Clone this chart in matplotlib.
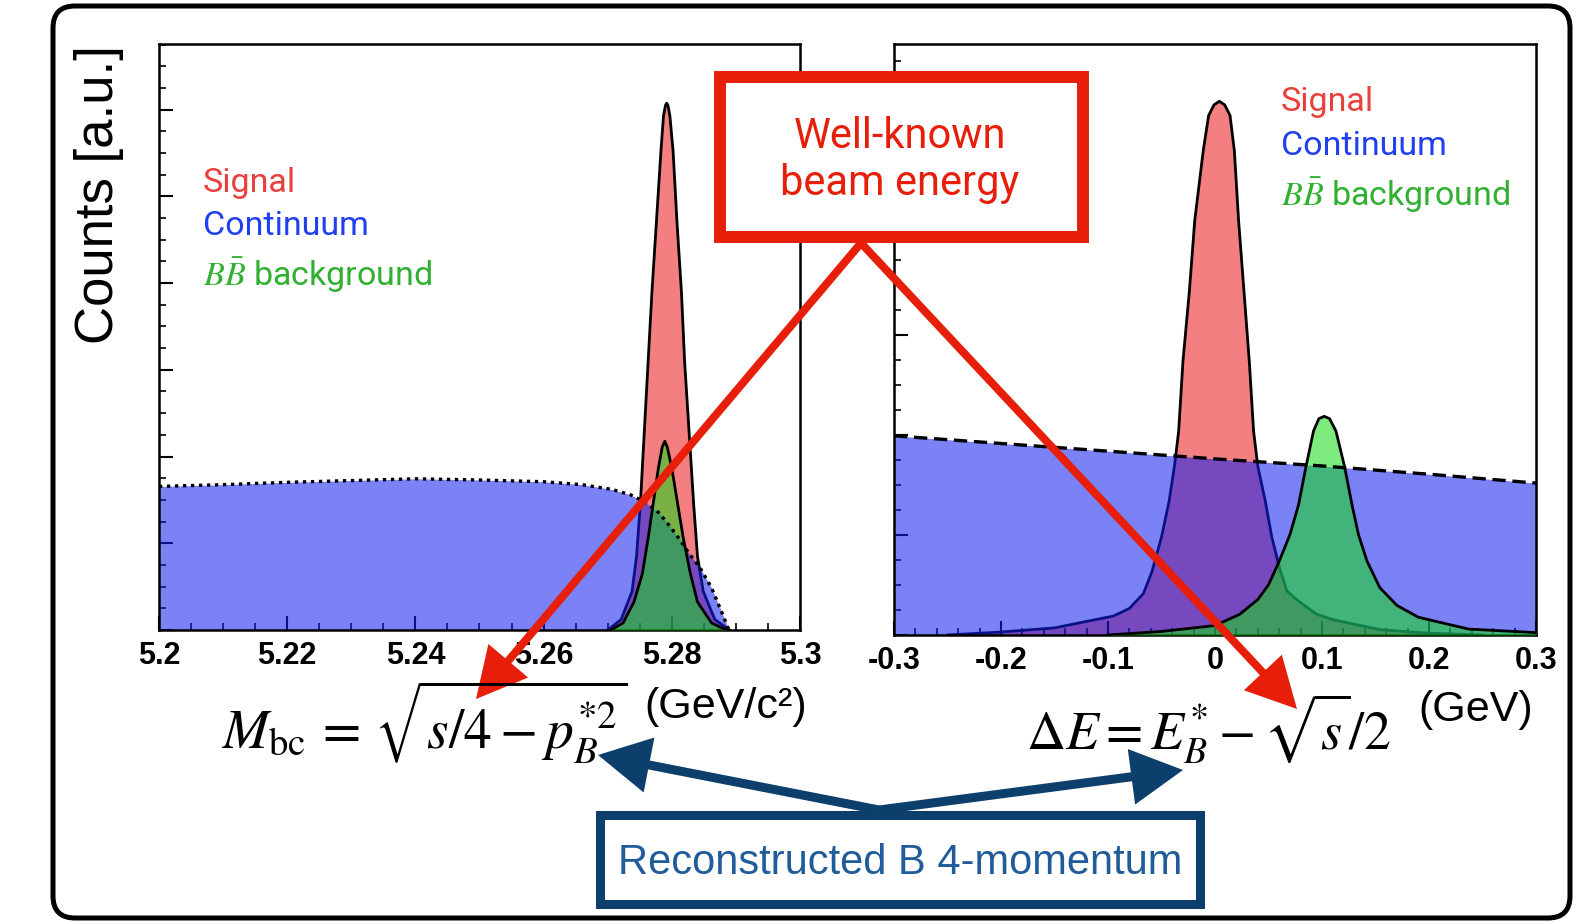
import matplotlib
matplotlib.use("Agg")
import matplotlib.pyplot as plt
from matplotlib.patches import Rectangle, FancyArrow, FancyBboxPatch
from matplotlib.ticker import MultipleLocator, AutoMinorLocator, FuncFormatter

plt.rcParams['mathtext.fontset'] = 'stix'
plt.rcParams['axes.unicode_minus'] = False
plt.rcParams['font.family'] = ['Liberation Sans', 'DejaVu Sans']

# --- Mbc panel (arbitrary units, axis top = 100) ---
mbc_sig_x = [5.2700, 5.2721, 5.2738, 5.2745, 5.2751, 5.2757, 5.2763, 5.2769, 5.2776, 5.2783,
             5.2787, 5.2790, 5.2792, 5.2794, 5.2797, 5.2802, 5.2808, 5.2815, 5.2820, 5.2827,
             5.2834, 5.2840, 5.2849, 5.2867, 5.2890]
mbc_sig_y = [0, 1.8, 6.6, 12.6, 21.6, 33.7, 45.7, 57.7, 69.7, 81.7,
             87.7, 89.5, 89.9, 89.5, 87.7, 81.7, 69.7, 57.7, 45.7, 33.7,
             21.6, 12.6, 6.6, 1.8, 0]

mbc_cont_x = [5.200, 5.210, 5.220, 5.230, 5.240, 5.250, 5.260, 5.266, 5.2706, 5.2735,
              5.2757, 5.2780, 5.2797, 5.2812, 5.2826, 5.2844, 5.2862, 5.2878, 5.2888, 5.2892]
mbc_cont_y = [24.5, 24.8, 25.2, 25.5, 25.8, 25.6, 25.3, 24.8, 24.0, 23.1,
              21.9, 20.0, 17.7, 15.5, 13.2, 10.6, 7.2, 3.0, 0.3, 0]

mbc_bb_x = [5.2705, 5.2724, 5.2741, 5.2754, 5.2763, 5.2771, 5.2779, 5.2785, 5.2789, 5.2793,
            5.2800, 5.2809, 5.2818, 5.2829, 5.2840, 5.2862, 5.2885]
mbc_bb_y = [0, 1.2, 4.8, 9.6, 15.6, 21.6, 27.6, 31.2, 32.2, 31.2,
            27.6, 21.6, 15.6, 9.6, 4.8, 1.2, 0]

# --- Delta E panel ---
de_sig_x = [-0.25, -0.20, -0.15, -0.12, -0.095, -0.080, -0.067, -0.059, -0.050, -0.043,
            -0.038, -0.034, -0.030, -0.024, -0.019, -0.011, -0.006, -0.001, 0.004, 0.009,
            0.014, 0.018, 0.022, 0.027, 0.032, 0.036, 0.040, 0.047, 0.053, 0.060,
            0.067, 0.076, 0.095, 0.110, 0.154, 0.20, 0.25]
de_sig_y = [0, 0.5, 1.2, 2.3, 3.2, 4.5, 7.0, 10.7, 16.6, 22.6,
            28.5, 34.5, 46.3, 58.2, 70.1, 82.0, 87.9, 89.7, 90.3, 89.7,
            87.9, 82.0, 70.1, 58.2, 46.3, 34.5, 28.5, 22.6, 16.6, 11.5,
            7.5, 6.0, 3.5, 2.6, 0.9, 0.3, 0]

de_cont_x = [-0.3, -0.2, -0.1, 0.0, 0.1, 0.2, 0.3]
de_cont_y = [33.7, 32.4, 31.1, 29.8, 28.6, 27.2, 25.7]

de_bb_x = [-0.10, -0.05, 0.000, 0.023, 0.040, 0.050, 0.060, 0.070, 0.078, 0.085,
           0.092, 0.097, 0.102, 0.107, 0.113, 0.121, 0.128, 0.134, 0.142, 0.154,
           0.170, 0.190, 0.237, 0.300]
de_bb_y = [0, 0.6, 1.6, 3.5, 6.0, 8.5, 12.5, 17.0, 22.0, 28.5,
           34.5, 36.6, 37.0, 36.6, 34.5, 28.5, 22.0, 17.0, 12.5, 8.0,
           5.0, 3.0, 1.0, 0.4]

legend_labels = ['Signal', 'Continuum', r'$B\bar{B}$ background']
legend_colors = ['#e8403c', '#2040f0', '#30b030']

RED = '#e61e0a'
NAVY = '#0c3f6b'
SIG_COL = '#f47f80'
CONT_COL = (19 / 255, 32 / 255, 240 / 255)
BB_COL = (20 / 255, 220 / 255, 20 / 255)

fig = plt.figure(figsize=(15.88, 9.22), dpi=100)
ax1 = fig.add_axes([0.1001, 0.3167, 0.4037, 0.6356])
ax2 = fig.add_axes([0.5630, 0.3113, 0.4043, 0.6410])


def draw_panel(ax, sx, sy, cx, cy, bx, by, cont_style, xlim, major_x, nminor_x, major_y):
    ax.fill_between(sx, sy, color=SIG_COL, lw=0, zorder=1)
    ax.plot(sx, sy, color='black', lw=2, zorder=1.5)
    ax.fill_between(cx, cy, color=CONT_COL, alpha=0.56, lw=0, zorder=2)
    ax.fill_between(bx, by, color=BB_COL, alpha=0.55, lw=0, zorder=3)
    ax.plot(bx, by, color='black', lw=2, zorder=3.5)
    ax.plot(cx, cy, color='black', lw=2.4, ls=cont_style, zorder=4)
    ax.set_xlim(*xlim)
    ax.set_ylim(0, 100)
    ax.xaxis.set_major_locator(MultipleLocator(major_x))
    ax.xaxis.set_minor_locator(AutoMinorLocator(nminor_x))
    ax.yaxis.set_major_locator(MultipleLocator(major_y))
    ax.yaxis.set_minor_locator(AutoMinorLocator(4))
    ax.xaxis.set_major_formatter(FuncFormatter(lambda v, p: '%g' % round(v, 3)))
    ax.set_yticklabels([])
    ax.tick_params(which='both', direction='in', top=False, right=False)
    ax.tick_params(which='major', length=10, width=1.5)
    ax.tick_params(which='minor', length=5, width=1.2)
    ax.tick_params(axis='x', pad=8, labelsize=22)
    for s in ax.spines.values():
        s.set_linewidth(1.8)


draw_panel(ax1, mbc_sig_x, mbc_sig_y, mbc_cont_x, mbc_cont_y, mbc_bb_x, mbc_bb_y,
           (0, (1, 1.4)), (5.2, 5.3), 0.02, 4, 14.8)
draw_panel(ax2, de_sig_x, de_sig_y, de_cont_x, de_cont_y, de_bb_x, de_bb_y,
           (0, (4, 2)), (-0.3, 0.3), 0.1, 5, 16.9)
for ax in (ax1, ax2):
    for lab in ax.get_xticklabels():
        lab.set_fontweight('bold')

# overlay in pixel coordinates
ov = fig.add_axes([0, 0, 1, 1], zorder=10)
ov.set_xlim(0, 1588)
ov.set_ylim(922, 0)
ov.axis('off')

# outer rounded frame
ov.add_patch(FancyBboxPatch((53, 6), 1517, 912, boxstyle='round,pad=0,rounding_size=22',
                            fc='none', ec='black', lw=3.6))

ov.text(99, 195, 'Counts [a.u.]', rotation=90, ha='center', va='center', fontsize=38)

# legends
for i, (lab, col) in enumerate(zip(legend_labels, legend_colors)):
    ov.text(203, [183, 226, 275][i], lab, color=col, fontsize=24.5, ha='left', va='center',
            family='Roboto')
    ov.text(1281, [102, 146, 195][i], lab, color=col, fontsize=24.5, ha='left', va='center',
            family='Roboto')

# red arrows + box
for tip in [(476, 699), (1297, 709)]:
    ov.add_patch(FancyArrow(861, 243, tip[0] - 861, tip[1] - 243, width=8, head_width=52,
                            head_length=50, length_includes_head=True, color=RED, lw=0))
ov.add_patch(Rectangle((720, 77), 363, 160, fc='white', ec=RED, lw=8.6))
ov.text(900, 136, 'Well-known', color=RED, fontsize=30, ha='center', va='center',
        family='Roboto')
ov.text(900, 183, 'beam energy', color=RED, fontsize=30, ha='center', va='center',
        family='Roboto')

# formulas
ov.text(221, 750, r'$M_{\rm bc}\,=\,\sqrt{s/4 - p_B^{*2}}$', fontsize=40, ha='left',
        va='baseline')
ov.text(644, 707, '(GeV/c²)', fontsize=31, ha='left', va='center')
ov.text(1026, 750, r'$\Delta E = E_B^{*} - \sqrt{s}/2$', fontsize=39, ha='left',
        va='baseline')
ov.text(1418, 710, '(GeV)', fontsize=31, ha='left', va='center')

# navy arrows + box
for tip in [(598, 755), (1183, 770)]:
    ov.add_patch(FancyArrow(879, 810, tip[0] - 879, tip[1] - 810, width=9, head_width=56,
                            head_length=52, length_includes_head=True, color=NAVY, lw=0))
ov.add_patch(Rectangle((600, 815), 600, 89, fc='white', ec=NAVY, lw=6.5))
ov.text(900, 863, 'Reconstructed B 4-momentum', color='#1f5c99', fontsize=30,
        ha='center', va='center')

fig.savefig('out.png', dpi=100)
